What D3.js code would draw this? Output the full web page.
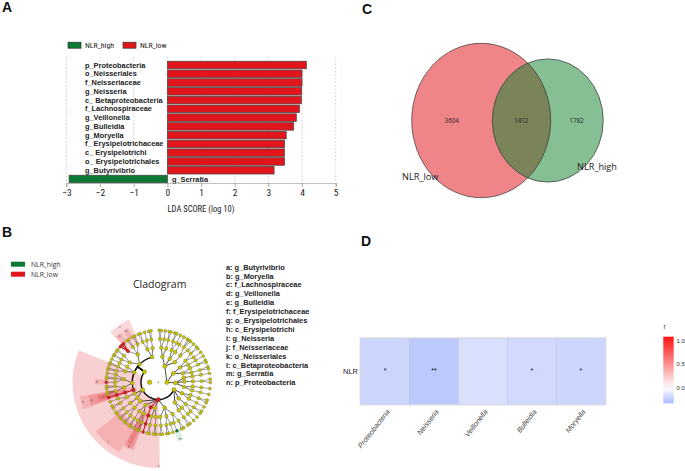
<!DOCTYPE html>
<html><head><meta charset="utf-8">
<script src="https://cdn.jsdelivr.net/npm/d3@7"></script>
<style>html,body{margin:0;padding:0;background:#fff}svg{display:block}</style></head>
<body><svg id="c" width="685" height="471"></svg>
<script>
// Panel A
const ldaTaxa=["p_Proteobacteria","o_Neisseriales","f_Neisseriaceae","g_Neisseria","c_ Betaproteobacteria","f_Lachnospiraceae","g_Veillonella","g_Bulleidia","g_Moryella","f_ Erysipelotrichaceae","c_ Erysipelotrichi","o_ Erysipelotrichales","g_Butyrivibrio","g_Serratia"];
const ldaScores=[4.13,4.0,4.0,3.99,3.98,3.92,3.83,3.75,3.53,3.48,3.48,3.48,3.17,-2.92];
const ldaTicks=[-3,-2,-1,0,1,2,3,4,5];
const groups=["NLR_high","NLR_low"];
// Panel B
const cladeKey=["a: g_Butyrivibrio","b: g_Moryella","c: f_Lachnospiraceae","d: g_Veillonella","e: g_Bulleidia","f: f_Erysipelotrichaceae","g: o_Erysipelotrichales","h: c_Erysipelotrichi","i: g_Neisseria","j: f_Neisseriaceae","k: o_Neisseriales","l: c_Betaproteobacteria","m: g_Serratia","n: p_Proteobacteria"];
const phylaRight=[[[[2,1],[2]],[[2,1],[1]],[[3,1]]],[[[2,1],[1]],[[2],[2]]],[[[1]],[[2]],[[1],[1]]]];
const phylaRightAngles=[22,59,92];
const phylaMain=[[[[2],[1]],[[2,1]],[[1],[2]]],[[[2,1],[1,2],[2]],[[2],[2]],[[1]],[[2,1],[2]],[[2,2]]],[[[2]],[[2,1]]],[[[1]],[[2,2],[1,2,1]],[[2,2],[1]],[[2,2],[3,2,2]],[[2,1],[2]]]];
const phylaMainAngles=[115,180,244,307];
const kingdomAngles=[90,270];
const redClades=["1.1","1.1.2","1.1.2.0","1.1.2.0.0","1.1.2.0.0.0","1.3.0","1.3.0.0","1.3.0.0.0","1.3.0.0.0.0","1.3.1.1.0.0","1.3.3.1.0","1.3.3.1.0.0","1.3.3.1.0.1","1.3.3.1.0.2"];
const greenClades=["1.1.0.0.1.0"];
const anchorClades=["0.0.0.0.0.0","0.1.0.0.0.0","0.2.0.0.0.0","1.0.0.0.0.0","1.1.0.0.1.0","1.1.2.0.0.0","1.2.0.0.0.0","1.3.0.0.0.0","1.3.1.1.0.0","1.3.3.1.0.0","1.3.4.1.0.1"];
const anchorBearings=[1,47,80,110,159,197,232,253,270,313,352];
const shadeLetters=["n","l","k","j","i","h","g","f","e","b","c","a","d","m"];
const shadeFrom=[179,209,200,201,203,250.5,251,252,253,268,316,317,325,156];
const shadeTo=[292,232,209,208,207,260,259,258,257,273,335,323,331,162];
const shadeLevelIn=[2,5.5,3.5,4,5,3,4,5,6,6,5,6,6,5.8];
const shadeLevelOut=[9.9,9.2,8.4,8.2,7.8,9.2,8.2,7.2,6.8,7.3,8,7.2,7.2,7.2];
// Panel C
const vennLow=3604, vennBoth=1412, vennHigh=1782;
// Panel D
const genera=["Proteobacteria","Neisseria","Veillonella","Bulleidia","Moryella"];
const corrR=[-0.19,-0.25,-0.145,-0.17,-0.187];
const corrStars=["*","**","","*","*"];
const legendTicks=[0,0.5,1];

const narrow="'Liberation Sans Narrow','Roboto Condensed',Roboto,sans-serif";
const bold="'Liberation Sans',Arial,sans-serif";
const open="'Open Sans','Noto Sans',sans-serif";
const RED="#e0161c",GREEN="#0c7a35",INK="#222";
const svg=d3.select("#c");

[["A",2,12],["B",2,237],["C",362,14],["D",361,246]].forEach(([t,x,y])=>svg.append("text").attr("x",x).attr("y",y).text(t).attr("font-family",bold).attr("font-weight","bold").attr("font-size",14).attr("fill","#111"));

/* ---------- A ---------- */
(function(){
 const x=d3.scaleLinear([-3,5],[66.4,335.7]);
 const y=d3.scalePoint(ldaTaxa,[65,179]);
 const g=svg.append("g");
 g.selectAll("line.grid").data(ldaTicks).join("line").attr("x1",d=>x(d)).attr("x2",d=>x(d)).attr("y1",57).attr("y2",183)
  .attr("stroke","#aaa").attr("stroke-width",.6).attr("stroke-dasharray","1.5 2");
 g.selectAll("rect.b").data(ldaTaxa).join("rect").attr("x",(d,i)=>Math.min(x(0),x(ldaScores[i]))).attr("width",(d,i)=>Math.abs(x(ldaScores[i])-x(0)))
  .attr("y",d=>y(d)-3.8).attr("height",7.6).attr("fill",(d,i)=>ldaScores[i]<0?GREEN:RED).attr("stroke","#444").attr("stroke-width",.7);
 g.selectAll("text.l").data(ldaTaxa).join("text").attr("x",(d,i)=>ldaScores[i]<0?x(0)+4.5:85).attr("y",d=>y(d)+2.5).text(d=>d)
  .attr("font-family",bold).attr("font-weight","bold").attr("font-size",7.4).attr("fill",INK);
 const ax=g.append("g").attr("transform","translate(0,183)").call(d3.axisBottom(x).tickValues(ldaTicks).tickFormat(d3.format("d")).tickSize(4));
 ax.select(".domain").attr("stroke","#999").attr("stroke-width",.6);
 ax.selectAll("line").attr("stroke","#777").attr("stroke-width",.6);
 ax.selectAll("text").attr("font-family",narrow).attr("font-size",9.5).attr("fill","#222").attr("dy","0.6em");
 g.append("text").attr("x",201).attr("y",212).attr("text-anchor","middle").text("LDA SCORE (log 10)").attr("font-family",narrow).attr("font-size",8.5).attr("fill","#222");
 groups.forEach((n,i)=>{const x0=[68,123][i];
  g.append("rect").attr("x",x0).attr("y",42.2).attr("width",13).attr("height",6).attr("fill",i?RED:GREEN).attr("stroke","#333").attr("stroke-width",.7);
  g.append("text").attr("x",x0+17).attr("y",48).text(n).attr("font-family",narrow).attr("font-size",7.8).attr("fill","#222");});
})();

/* ---------- B ---------- */
(function(){
 const cx=158.3,cy=382.3,g=svg.append("g");
 const rad=d3.scaleLinear([0,6],[0,52]);
 const deg=Math.PI/180;
 const pt=(a,r)=>[cx+r*Math.sin(a*deg),cy-r*Math.cos(a*deg)];
 groups.forEach((n,i)=>{
  g.append("rect").attr("x",11).attr("y",261.7+10*i).attr("width",14).attr("height",5).attr("fill",i?RED:GREEN);
  g.append("text").attr("x",31).attr("y",266.6+10*i).text(n).attr("font-family",open).attr("font-size",6.8).attr("fill","#333");});
 g.append("text").attr("x",133).attr("y",288).text("Cladogram").attr("font-family",open).attr("font-size",10.5).attr("fill","#222");
 g.selectAll("text.k").data(cladeKey).join("text").attr("x",226).attr("y",(d,i)=>269.6+i*8.9).text(d=>d)
  .attr("font-family",bold).attr("font-weight","bold").attr("font-size",7.4).attr("fill","#222");
 // wedges
 const arc=d3.arc();
 shadeLetters.forEach((l,i)=>{
  g.append("path").attr("transform",`translate(${cx},${cy})`)
   .attr("d",arc({innerRadius:rad(shadeLevelIn[i]),outerRadius:rad(shadeLevelOut[i]),startAngle:shadeFrom[i]*deg,endAngle:shadeTo[i]*deg}))
   .attr("fill",l==="m"?"#2e9e5c":RED).attr("fill-opacity",l==="n"?.2:.17);
 });
 // tree
 const grow=(spec,level)=>{
  if(level===6) return {};
  if(typeof spec==="number"){
   if(level===5) return {children:d3.range(spec).map(()=>({}))};
   return {children:[grow(spec,level+1)]};
  }
  return {children:spec.map(s=>grow(s,level+1))};
 };
 const phylum=(s,a)=>Object.assign(grow(s,2),{at:a});
 const tree={children:[
  {at:kingdomAngles[0],children:phylaRight.map((s,i)=>phylum(s,phylaRightAngles[i]))},
  {at:kingdomAngles[1],children:phylaMain.map((s,i)=>phylum(s,phylaMainAngles[i]))}]};
 const root=d3.cluster().size([360,1]).separation((a,b)=>a.parent===b.parent?.8:1.4)(d3.hierarchy(tree));
 root.eachBefore(n=>{n.path=n.parent?(n.parent.path===""?"":n.parent.path+".")+n.parent.children.indexOf(n):"";
  n.r=rad(n.depth);
  n.kind=redClades.includes(n.path)?"r":greenClades.includes(n.path)?"g":"y";});
 const leaves=root.leaves();
 const bearing=d3.scaleLinear().domain(anchorClades.map(p=>leaves.find(l=>l.path===p).x)).range(anchorBearings);
 root.eachAfter(n=>{
  if(!n.children) n.angle=bearing(n.x);
  else n.angle=n.data.at!==undefined?n.data.at:(n.children[0].angle+n.children[n.children.length-1].angle)/2;
 });
 const kk=root.children[1];                 // main kingdom
 const broad=kk.children[3];                // phylum carrying the wide class arc
 const isRed=l=>l.target.kind==="r"&&l.source.kind==="r";
 const links=root.links().filter(l=>l.source.depth>0&&l.source!==kk);
 const linkPath=l=>{
  const a0=l.source.angle,a1=l.target.angle,r0=l.source.r,r1=l.target.r;
  if(l.source===broad){const p0=pt(a0,r0),p1=pt(a0,r1),p2=pt(a1,r1);
    return `M${p0}L${p1}A${r1},${r1} 0 0 ${a1>a0?1:0} ${p2}`;}
  return `M${pt(a0,r0)}L${pt(a1,r1)}`;};
 const wid=l=>isRed(l)?1.1:l.source===broad?1.25:[0,.55,.8,.8,.6,.45,.4][l.target.depth];
 g.selectAll("path.lk").data(links).join("path").attr("d",linkPath).attr("fill","none")
  .attr("stroke",l=>isRed(l)?"#c8141a":"#1a1a1a").attr("stroke-width",wid);
 // main kingdom arc drawn as one sweep through its phyla
 g.append("path").attr("d",()=>{const a=d3.min(kk.children,c=>c.angle),b=d3.max(kk.children,c=>c.angle),r=rad(2);return `M${pt(a,r)}A${r},${r} 0 1 1 ${pt(b,r)}`;}).attr("fill","none").attr("stroke","#111").attr("stroke-width",1.45);
 const nodeR=[.5,2.3,2.15,1.95,1.85,1.7,1.5];
 g.selectAll("circle.n").data(root.descendants()).join("circle")
  .attr("cx",n=>pt(n.angle,n.r)[0]).attr("cy",n=>pt(n.angle,n.r)[1]).attr("r",n=>nodeR[n.depth])
  .attr("fill",n=>n.kind==="r"?"#e0161c":n.kind==="g"?GREEN:"#c9c600").attr("stroke","#444").attr("stroke-width",.3);
 shadeLetters.forEach((l,i)=>{
  const a=(shadeFrom[i]+shadeTo[i])/2, p=pt(l==="n"?180:a,rad(shadeLevelOut[i])-1.8);
  g.append("text").attr("x",p[0]).attr("y",p[1]+1).attr("text-anchor","middle").text(l).attr("font-family",bold).attr("font-size",3.2).attr("fill","#555");});
})();

/* ---------- C ---------- */
(function(){
 const g=svg.append("g"),cy=120.5;
 const rx=d3.scaleSqrt([0,vennLow+vennBoth],[0,69.5]), ry=d3.scaleSqrt([0,vennLow+vennBoth],[0,77.2]);
 const a={cx:481.2,rx:rx(vennLow+vennBoth),ry:ry(vennLow+vennBoth)}, b={cx:547.8,rx:rx(vennHigh+vennBoth),ry:ry(vennHigh+vennBoth)};
 svg.append("defs").append("clipPath").attr("id","vc").append("ellipse").attr("cx",a.cx).attr("cy",cy).attr("rx",a.rx).attr("ry",a.ry);
 const e=(o,f)=>g.append("ellipse").attr("cx",o.cx).attr("cy",cy).attr("rx",o.rx).attr("ry",o.ry).attr("fill",f);
 e(a,"#f08589"); e(b,"#85bf93"); e(b,"#7b8359").attr("clip-path","url(#vc)");
 e(a,"none").attr("stroke","#333").attr("stroke-width",.7); e(b,"none").attr("stroke","#333").attr("stroke-width",.7);
 [[vennLow,451.7],[vennBoth,521.3],[vennHigh,576.7]].forEach(([v,x])=>g.append("text").attr("x",x).attr("y",122.5).attr("text-anchor","middle").text(v).attr("font-family",open).attr("font-size",6.2).attr("fill","#222"));
 g.append("text").attr("x",402).attr("y",180).text(groups[1]).attr("font-family",open).attr("font-size",9.2).attr("fill","#222");
 g.append("text").attr("x",577).attr("y",170).text(groups[0]).attr("font-family",open).attr("font-size",9.2).attr("fill","#222");
})();

/* ---------- D ---------- */
(function(){
 const g=svg.append("g");
 const x=d3.scaleBand(genera,[360.7,605.3]);
 const y0=338.3,y1=404.3;
 const col=d3.scaleLinear([-0.25,0,1],["#bcc9fd","#ffffff","#ff2424"]).clamp(false);
 g.append("rect").attr("x",360).attr("y",y0-.7).attr("width",246).attr("height",y1-y0+1.4).attr("fill","none").attr("stroke","#e6e6e6").attr("stroke-width",1);
 g.selectAll("rect.c").data(genera).join("rect").attr("x",d=>x(d)).attr("width",x.bandwidth()).attr("y",y0).attr("height",y1-y0)
  .attr("fill",(d,i)=>col(corrR[i])).attr("stroke","#bcc2da").attr("stroke-width",.5);
 g.selectAll("text.s").data(genera).join("text").attr("x",d=>x(d)+x.bandwidth()/2).attr("y",373.2).attr("text-anchor","middle").text((d,i)=>corrStars[i])
  .attr("font-family",bold).attr("font-size",7).attr("fill","#111");
 g.append("text").attr("x",358).attr("y",374).attr("text-anchor","end").text("NLR").attr("font-family",bold).attr("font-size",7.5).attr("fill","#222");
 g.selectAll("text.g").data(genera).join("text")
  .attr("transform",d=>`translate(${x(d)+x.bandwidth()/2+3},${y1+6}) rotate(-52)`).attr("text-anchor","end").attr("dy","0.35em").text(d=>d)
  .attr("font-family",bold).attr("font-style","italic").attr("font-size",7.2).attr("fill","#444");
 // colour legend
 const ly=d3.scaleLinear([0,1],[388,340.7]);
 const dm=[ly.invert(403.3),ly.invert(336.7)];
 const grad=svg.select("defs").append("linearGradient").attr("id","lg").attr("x1",0).attr("x2",0).attr("y1",1).attr("y2",0);
 d3.range(0,1.001,.1).forEach(t=>{const v=dm[0]+(dm[1]-dm[0])*t;grad.append("stop").attr("offset",t).attr("stop-color",col(v));});
 g.append("rect").attr("x",663.3).attr("y",336.7).attr("width",10.4).attr("height",66.6).attr("fill","url(#lg)");
 g.selectAll("text.t").data(legendTicks).join("text").attr("x",676.5).attr("y",d=>ly(d)+2.1).text(d=>d.toFixed(1)).attr("font-family",bold).attr("font-size",6).attr("fill","#333");
 g.append("text").attr("x",663.5).attr("y",329).text("r").attr("font-family",bold).attr("font-size",6.5).attr("fill","#333");
})();
</script></body></html>
